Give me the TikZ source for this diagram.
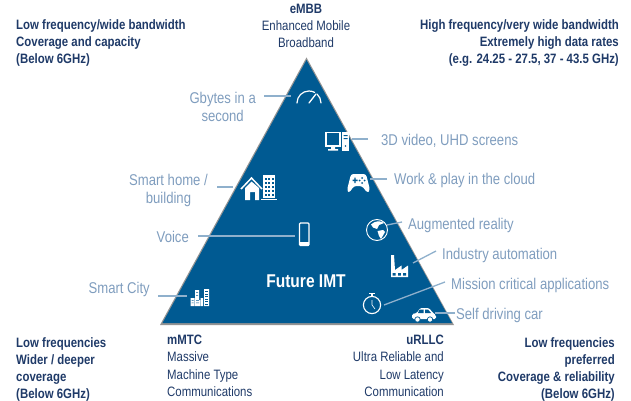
\documentclass[tikz,border=0pt]{standalone}
\usepackage{fontspec}
\setmainfont[FakeStretch=0.84]{Liberation Sans}
\definecolor{tri}{HTML}{005A92}
\definecolor{lab}{HTML}{7F9DBE}
\definecolor{dark}{HTML}{1F3A68}
\definecolor{conn}{HTML}{8FB0CC}
\tikzset{
 lbl/.style={text=lab,font=\fontsize{15.6}{18}\selectfont,inner sep=0pt,align=center},
 blk/.style={text=dark,font=\fontsize{13.6}{17.2}\selectfont,inner sep=0pt},
 blkb/.style={blk,font=\fontsize{13.6}{17.2}\selectfont\bfseries},
 link/.style={draw=conn,line width=1.3pt},
 ic/.style={white,line width=1.1pt},
}
\begin{document}
\begin{tikzpicture}[x=1pt,y=-1pt]
\useasboundingbox (0,0) rectangle (631,401);
\fill[gray!85] (306.5,57.5) -- (454,325) -- (160,325) -- cycle;
\fill[tri] (306.5,60) -- (452,323) -- (162.5,323) -- cycle;
% labels
\node[lbl,anchor=east] (gb) at (256,107) {Gbytes in a\\second};
\node[lbl,anchor=west] (v3d) at (381,140.5) {3D video, UHD screens};
\node[lbl,anchor=west] (work) at (394,180.5) {Work \& play in the cloud};
\node[lbl,anchor=east] (home) at (208,190) {Smart home /\\building};
\node[lbl,anchor=west] (ar) at (408,225) {Augmented reality};
\node[lbl,anchor=east] (voice) at (189,237) {Voice};
\node[lbl,anchor=west] (ind) at (442,255) {Industry automation};
\node[lbl,anchor=east] (city) at (150,289) {Smart City};
\node[lbl,anchor=west] (mc) at (451,285) {Mission critical applications};
\node[lbl,anchor=west] (car) at (456,315) {Self driving car};
% icon anchors
\coordinate (igb) at (291,96);
\coordinate (i3d) at (352,139);
\coordinate (iwork) at (370,179);
\coordinate (ihome) at (233,187);
\coordinate (ivoice) at (295,236);
\coordinate (icity) at (187,296);
\coordinate (iar) at (387,225);
\coordinate (iind) at (413,263);
\coordinate (imc) at (384,305);
\coordinate (icar) at (435,313);
% connectors
\draw[link] (gb.east) ++(8,-11) -- (igb);
\draw[link] (v3d.west) ++(-13,-1.5) -- (i3d);
\draw[link] (work.west) ++(-7,-1.5) -- (iwork);
\draw[link] (home.east) ++(9,-3) -- (ihome);
\draw[link] (voice.east) ++(9,-1) -- (ivoice);
\draw[link] (city.east) ++(8,7) -- (icity);
\draw[link] (ar.west) ++(-6,-3) -- (iar);
\draw[link] (ind.west) ++(-6,-4) -- (iind);
\draw[link] (mc.west) ++(-6,-3) -- (imc);
\draw[link] (car.west) ++(-1,-2) -- (icar);
% gauge
\draw[ic,line width=1.2pt,line cap=round] (297,103) arc (180:298:12) (317,94) arc (312:360:12);
\draw[ic,line width=1.3pt,line cap=round] (309,103) -- (316,94);
% computer
\draw[ic] (326,132.5) rectangle (340,146);
\fill[white] (331,147) rectangle (335,149) (328,149) rectangle (338,150.5);
\fill[white] (342,132) rectangle (349,150.5);
\fill[tri] (343.5,135) rectangle (347.5,136) (343.5,138) rectangle (347.5,139);
\fill[tri] (345.5,146) circle (0.8);
% gamepad
\fill[white,rounded corners=2.5pt] (351,174) -- (366,174) -- (370,190) -- (367.5,193) -- (362,186) -- (354,186) -- (349,193) -- (347,190) -- cycle;
\fill[tri] (352.5,179.5) rectangle (357.5,181) (354.3,177.5) rectangle (355.7,183);
\fill[tri] (362,178) circle (1) (362,183) circle (1) (359.5,180.5) circle (1) (364.5,180.5) circle (1);
% home
\draw[ic,line width=1.5pt] (241,189) -- (251.5,178) -- (262,189);
\fill[white] (245,188) -- (251.5,181.5) -- (259,188) -- (259,200) -- (255,200) -- (255,192) -- (250,192) -- (250,200) -- (245,200) -- cycle;
\fill[white] (263,175) rectangle (275,198);
\fill[white] (261,198.5) rectangle (277,200);
\foreach \xx in {264.5,268,271.5}{\foreach \yy in {178,182,186,190,194}{\fill[tri] (\xx,\yy) rectangle ++(2,2);}}
% phone
\draw[ic,line width=1.3pt,rounded corners=1pt] (299.5,223) rectangle (309,245.5);
\fill[white] (299.5,241.5) rectangle (309,245.5);
% city
\fill[white] (190.5,298) rectangle (194.5,306) (195,290) rectangle (199,300) (195,300) rectangle (200,306) (200.5,298) rectangle (203,306) (204,289) rectangle (209,306);
\foreach \yy in {300,302.5}{\fill[tri] (191.5,\yy) rectangle ++(2,.7) (196,\yy) rectangle ++(3,.7);}
\foreach \yy in {291,293.5,296,298.5,301,303.5}{\fill[tri] (205,\yy) rectangle ++(3,.7);}
\fill[tri] (196,292) rectangle ++(2,.7) (196,295) rectangle ++(2,.7);
% globe
\draw[ic,line width=.9pt] (377,230) circle (10.5);
\fill[white] (371,224.5) .. controls (375,220.5) and (381,220.5) .. (384,223) -- (379,225) -- (377,229) -- (373,227.5) -- cycle;
\fill[white] (377.5,231) -- (383,230) -- (385,232) -- (381,239) -- (379,236) -- cycle;
% factory
\fill[white] (391,255) -- (394,255) -- (395,270) -- (401.5,265.5) -- (401.5,270) -- (408,265.5) -- (408,277) -- (391,277) -- cycle;
\fill[tri] (392.7,273) rectangle (395.5,275.5) (398,273) rectangle (400.8,275.5) (403.2,273) rectangle (406,275.5);
% stopwatch
\draw[ic] (372,305) circle (8.6);
\draw[ic] (372,296) -- (372,294);
\draw[ic] (369,293.5) -- (375,293.5);
\draw[white,line width=.6pt] (372,300) -- (372,305) -- (375,309);
% car
\path[fill=white,rounded corners=1.5pt] (412,319) -- (412,314) -- (417,313) -- (420,308) -- (429,308) -- (433,313) -- (436,315) -- (436,319) -- cycle;
\fill[tri] (419.5,309.5) -- (423.5,309.5) -- (423.5,313) -- (418,313) -- cycle (425,309.5) -- (428,309.5) -- (431,313) -- (425,313) -- cycle;
\fill[white,draw=tri,line width=.7pt] (417.5,319.5) circle (2.7) (430,319.5) circle (2.7);
% title
\node[inner sep=0pt,text=white,font=\fontsize{18.5}{20}\selectfont\bfseries] (imt) at (306,281.5) {Future IMT};
% blocks
\node[blkb,align=left,anchor=north west] (tl) at (16,19) {Low frequency/wide bandwidth\\Coverage and capacity\\(Below 6GHz)};
\node[blk,align=center,anchor=north] (embb) at (306,4) {\textbf{eMBB}\\Enhanced Mobile\\Broadband};
\node[blkb,align=right,anchor=north east] (tr) at (619,19) {High frequency/very wide bandwidth\\Extremely high data rates\\(e.g. 24.25 - 27.5, 37 - 43.5 GHz)};
\node[blkb,align=left,anchor=north west] (bl) at (16,337) {Low frequencies\\Wider / deeper\\coverage\\(Below 6GHz)};
\node[blk,align=left,anchor=north west] (mm) at (167,335) {\textbf{mMTC}\\Massive\\Machine Type\\Communications};
\node[blk,align=right,anchor=north east] (ur) at (444,335) {\textbf{uRLLC}\\Ultra Reliable and\\Low Latency\\Communication};
\node[blkb,align=right,anchor=north east] (br) at (615,337) {Low frequencies\\preferred\\Coverage \& reliability\\(Below 6GHz)};
\end{tikzpicture}
\end{document}
